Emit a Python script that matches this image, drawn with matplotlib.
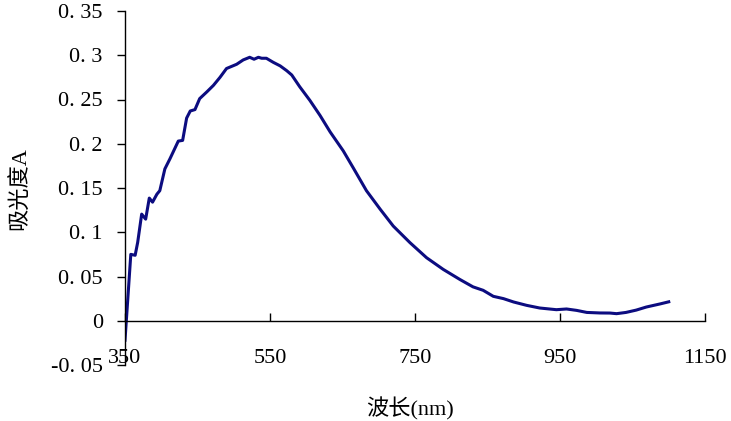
import matplotlib.pyplot as plt
from matplotlib.ticker import FuncFormatter

# wavelength (nm) and absorbance
wavelength = [350, 358, 364, 367.5, 373, 378.5, 383.5, 388, 394, 398, 405, 412, 423.5, 429.5,
              435, 440, 446.5, 453, 463, 472, 481, 490, 504, 513, 522, 528, 534, 538.5, 545,
              554.5, 564, 573, 580, 591, 605, 619, 633, 651, 665, 683, 702, 720, 743, 766,
              789, 812, 830, 844, 858, 872, 886, 904, 922, 945, 959, 973, 987, 1005, 1019,
              1028, 1041, 1055, 1069, 1088, 1100]
absorbance = [-0.022, 0.075, 0.074, 0.0886, 0.1205, 0.1148, 0.1386, 0.134, 0.143, 0.147, 0.1716,
              0.183, 0.203, 0.2038, 0.229, 0.237, 0.2386, 0.251, 0.2587, 0.266, 0.275, 0.285,
              0.2898, 0.2947, 0.2977, 0.2955, 0.2977, 0.2966, 0.2966, 0.292, 0.288, 0.2826,
              0.2777, 0.2644, 0.249, 0.232, 0.2133, 0.192, 0.1725, 0.147, 0.126, 0.107, 0.0883,
              0.0712, 0.058, 0.0466, 0.0383, 0.0344, 0.0276, 0.025, 0.0212, 0.0174, 0.0144,
              0.0125, 0.0133, 0.0117, 0.0094, 0.0088, 0.0087, 0.008, 0.0094, 0.012, 0.0155,
              0.019, 0.0214]

x_ticks = [350, 550, 750, 950, 1150]
y_ticks = [-0.05, 0, 0.05, 0.1, 0.15, 0.2, 0.25, 0.3, 0.35]

serif = ['Liberation Serif', 'DejaVu Serif']
cjk = ['Liberation Serif', 'Noto Sans CJK SC']


def spaced(v, pos):
    s = f"{v:.2f}".rstrip("0").rstrip(".")
    if s in ("-0", "0"):
        return "0"
    return s.replace(".", ". ")


fig = plt.figure(figsize=(7.31, 4.21), dpi=100)
ax = fig.add_axes([125 / 731, 56 / 421, 580 / 731, 354 / 421])

ax.plot(wavelength, absorbance, color='#0c0c80', lw=2.2)

ax.set_xlim(350, 1150)
ax.set_ylim(-0.05, 0.35)
ax.set_xticks(x_ticks)
ax.set_yticks(y_ticks)
ax.yaxis.set_major_formatter(FuncFormatter(spaced))

ax.spines['top'].set_visible(False)
ax.spines['right'].set_visible(False)
ax.spines['bottom'].set_position(('data', 0))
ax.spines['left'].set_linewidth(1.0)
ax.spines['bottom'].set_linewidth(1.0)

ax.tick_params(axis='x', direction='in', length=6, width=1.0, pad=20, labelsize=16)
ax.tick_params(axis='y', direction='out', length=6, width=1.0, pad=10, labelsize=16)
for lab in ax.get_xticklabels() + ax.get_yticklabels():
    lab.set_family(serif)

fig.text(410 / 731, 12 / 421, "波长(nm)", ha='center', va='center', fontsize=16, family=cjk)
fig.text(20 / 731, 1 - 189 / 421, "吸光度A", ha='center', va='center', rotation=90,
         fontsize=16, family=cjk)

fig.savefig("out.png", dpi=100)
